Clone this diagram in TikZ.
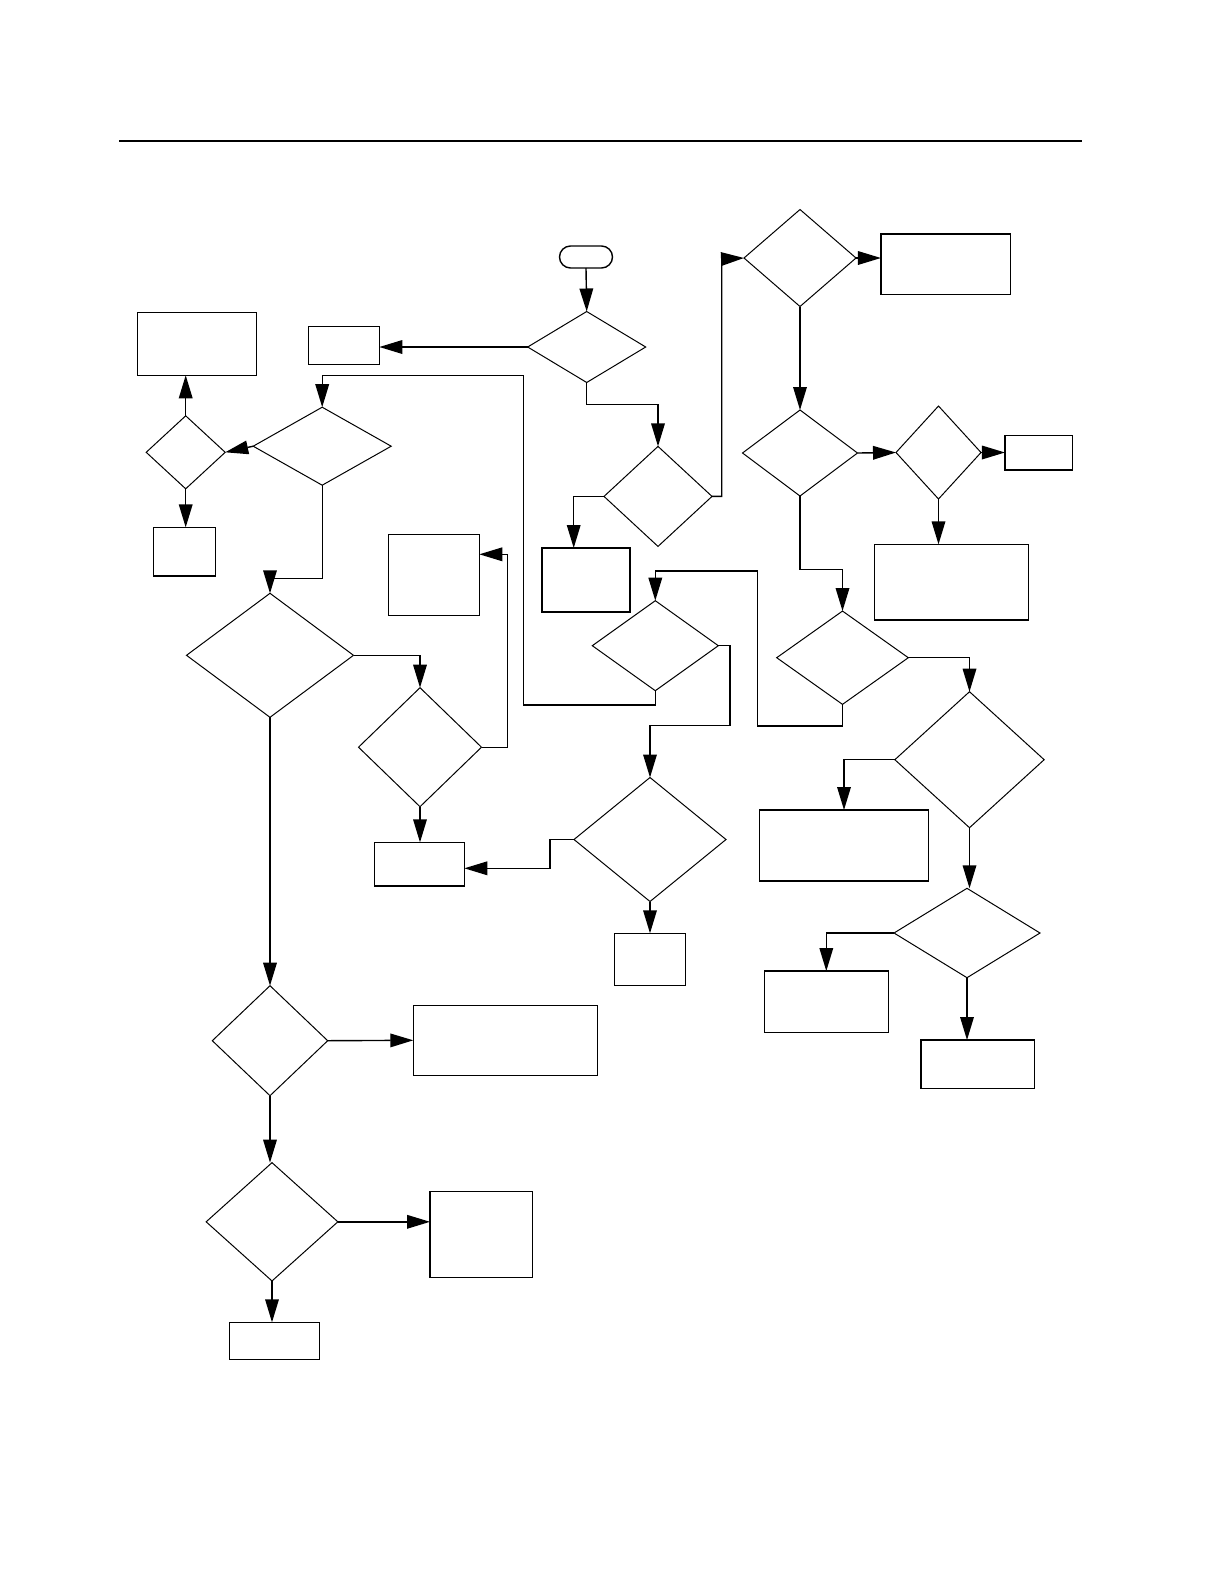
\documentclass[tikz,border=0pt]{standalone}
\usetikzlibrary{shapes.geometric,arrows.meta}

\tikzset{
  box/.style 2 args={draw, rectangle, line width=0.7pt, inner sep=0pt, outer sep=0pt,
    minimum width=#1*0.5bp, minimum height=#2*0.5bp},
  dia/.style 2 args={draw, diamond, line width=0.5pt, inner sep=0pt, outer sep=0pt,
    minimum width=#1*0.5bp, minimum height=#2*0.5bp},
  term/.style={draw, rectangle, rounded corners=5.5bp, line width=0.7pt, inner sep=0pt,
    outer sep=0pt, minimum width=26.5bp, minimum height=11bp},
  arr/.style={line width=0.7pt, -{Triangle[length=11.5bp,width=6.8bp]}},
  wire/.style={line width=0.7pt}
}

\begin{document}
\begin{tikzpicture}[x=0.5bp, y=-0.5bp]
  \useasboundingbox (0,0) rectangle (1224,1584);
  \draw[line width=1bp] (119,141) -- (1082,141);

  \node[term] (start) at (586,257) {};
  \node[dia={118}{71}] (d1) at (586.7,347) {};
  \node[box={71}{38}] (b1) at (343.8,345.3) {};
  \node[dia={138}{78}] (d2) at (322.2,446.2) {};
  \node[dia={79}{73}] (d4) at (185.7,452.3) {};
  \node[box={119.4}{63}] (btop) at (197,343.8) {};
  \node[box={62}{48.7}] (bsmall) at (184.3,551.7) {};
  \node[dia={167}{124}] (d5) at (270,655.3) {};
  \node[dia={123}{119}] (d6) at (420,747.2) {};
  \node[box={91}{81}] (m1) at (433.8,574.8) {};
  \node[box={90}{43.7}] (m2) at (419.3,864.2) {};
  \node[dia={108}{100}] (d3) at (658,496.4) {};
  \node[box={88}{64}] (b3) at (586,580) {};
  \node[dia={126}{90}] (d7) at (655.3,645.7) {};
  \node[dia={152}{124}] (d8) at (650,839.5) {};
  \node[box={71.4}{52.4}] (b8) at (650,959.5) {};
  \node[dia={112}{97}] (d10) at (800,258) {};
  \node[box={129.7}{60.3}] (r1) at (945.8,264.2) {};
  \node[dia={115}{86}] (d11) at (800,453) {};
  \node[dia={85}{93}] (d12) at (938.5,452.5) {};
  \node[box={67.7}{34.7}] (r2) at (1038.8,452.7) {};
  \node[box={154}{75.7}] (r3) at (951.3,582.2) {};
  \node[dia={131.6}{93.3}] (d9) at (842.5,657.7) {};
  \node[dia={149.3}{136}] (d13) at (969.5,759.7) {};
  \node[box={169.4}{71}] (r4) at (844,845.5) {};
  \node[dia={146}{89.4}] (d14) at (967,933) {};
  \node[box={124}{61.3}] (r5) at (826.3,1001.7) {};
  \node[box={113.7}{48.3}] (r6) at (977.8,1064.2) {};
  \node[dia={115.4}{110}] (d15) at (270,1040.7) {};
  \node[box={184}{70}] (b15) at (505.3,1040.3) {};
  \node[dia={131.7}{118.3}] (d16) at (272,1221.8) {};
  \node[box={102.3}{86}] (b16) at (481.2,1234.3) {};
  \node[box={90}{37}] (b17) at (274.3,1340.8) {};

  \coordinate (c3) at (573.7,496.4);
  \coordinate (c6) at (507.3,554.3);
  \coordinate (c8) at (550,868.3);
  \coordinate (c7) at (730,725.7);
  \coordinate (c9) at (757.3,571);
  \coordinate (cl) at (523.3,375.3);
  \coordinate (cr) at (721.7,259);

  \draw[arr] (start.south) -- (d1.north);
  \draw[arr] (d1.west) -- (d1.west -| b1.east);
  \draw[arr] (d1.south) -- ++(0,21.7) -| (d3.north);
  \draw[arr] (d7.south) |- (cl |- 0,705) -- (cl) -| (d2.north);
  \draw[arr] (d2.west) -- (d4.east);
  \draw[arr] (d4.north) -- (d4.north |- btop.south);
  \draw[arr] (d4.south) -- (d4.south |- bsmall.north);
  \draw[arr] (d2.south) -- ++(0,93.3) -| (d5.north);
  \draw[arr] (d5.east) -| (d6.north);
  \draw[arr] (d6.east) -| (c6) -- (c6 -| m1.east);
  \draw[arr] (d6.south) -- (d6.south |- m2.north);
  \draw[arr] (d8.west) -| (c8) -- (c8 -| m2.east);
  \draw[arr] (d8.south) -- (b8.north);
  \draw[arr] (d7.east) -| (c7) -| (d8.north);
  \draw[arr] (d9.south) |- (c9 |- 0,726) -- (c9) -| (d7.north);
  \draw[arr] (d3.west) -- (c3) -- (c3 |- b3.north);
  \draw[arr] (d3.east) -| (cr) -- (d10.west);
  \draw[arr] (d10.east) -- (d10.east -| r1.west);
  \draw[arr] (d10.south) -- (d11.north);
  \draw[arr] (d11.east) -- (d12.west);
  \draw[arr] (d12.east) -- (d12.east -| r2.west);
  \draw[arr] (d12.south) -- (d12.south |- r3.north);
  \draw[arr] (d11.south) -- ++(0,73.3) -| (d9.north);
  \draw[arr] (d9.east) -| (d13.north);
  \draw[arr] (d13.west) -| (r4.north);
  \draw[arr] (d13.south) -- (d13.south |- d14.north);
  \draw[arr] (d14.west) -| (r5.north);
  \draw[arr] (d14.south) -- (d14.south |- r6.north);
  \draw[arr] (d5.south) -- (d5.south |- d15.north);
  \draw[arr] (d15.east) -- (b15.west);
  \draw[arr] (d15.south) -- (d15.south |- d16.north);
  \draw[arr] (d16.east) -- (d16.east -| b16.west);
  \draw[arr] (d16.south) -- (d16.south |- b17.north);
\end{tikzpicture}
\end{document}
